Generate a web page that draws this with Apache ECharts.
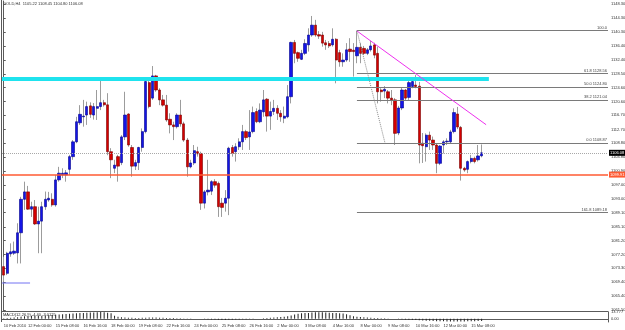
<!DOCTYPE html>
<html><head><meta charset="utf-8">
<script src="https://cdn.jsdelivr.net/npm/echarts@6/dist/echarts.min.js"></script>
<style>html,body{margin:0;padding:0;background:#fff}#c{width:625px;height:330px}</style>
</head><body><div id="c"></div>
<script>
// ---- data ----
const opens = [1073.8,1071.9,1077.4,1077.6,1077.7,1083.4,1092.9,1095.0,1090.1,1090.8,1085.9,1086.7,1090.8,1092.7,1092.9,1091.3,1098.4,1099.8,1099.8,1101.4,
1105.0,1109.2,1114.6,1116.3,1116.8,1119.4,1116.8,1118.7,1119.2,1120.3,1119.7,1106.4,1101.7,1105.0,1103.3,1110.6,1117.1,1107.6,1102.3,1103.3,
1107.6,1112.1,1126.0,1121.6,1127.9,1123.9,1121.1,1119.6,1115.6,1114.0,1113.5,1116.8,1114.3,1109.7,1102.1,1103.2,1106.4,1105.9,1091.8,1095.0,
1095.2,1097.9,1097.4,1091.8,1091.8,1093.2,1107.6,1106.4,1107.8,1109.2,1112.1,1110.6,1112.1,1117.8,1114.9,1117.7,1121.3,1116.5,1117.8,1118.7,
1117.3,1115.9,1116.3,1122.0,1137.4,1134.5,1132.6,1134.3,1136.7,1139.5,1142.3,1139.6,1139.5,1137.3,1137.1,1136.7,1138.3,1134.5,1131.9,1132.4,
1135.5,1135.2,1133.6,1136.0,1135.7,1134.3,1135.3,1136.7,1134.3,1123.9,1123.6,1123.4,1121.6,1121.1,1111.7,1118.8,1123.9,1121.8,1124.9,1125.3,
1125.0,1108.8,1107.8,1111.1,1109.7,1108.3,1103.1,1108.3,1109.2,1109.2,1112.1,1117.1,1113.3,1101.7,1101.4,1103.6,1104.5,1104.1,1105.22];
const closes = [1071.4,1077.6,1078.0,1078.2,1083.4,1092.9,1095.0,1090.1,1090.8,1085.9,1086.7,1090.8,1092.9,1093.2,1091.3,1098.4,1100.3,1100.3,1100.4,1105.0,
1109.2,1114.9,1117.0,1116.5,1119.2,1117.0,1119.2,1119.2,1120.3,1119.7,1106.4,1104.1,1102.6,1102.3,1110.6,1116.8,1108.3,1102.3,1103.3,1107.6,
1112.1,1126.3,1119.2,1127.9,1123.9,1121.1,1119.6,1115.4,1114.0,1113.5,1116.8,1114.3,1109.7,1102.1,1103.2,1106.7,1105.8,1091.8,1095.0,1095.5,
1097.9,1096.9,1090.8,1090.6,1093.2,1107.4,1105.9,1107.8,1109.2,1112.1,1110.4,1112.0,1117.5,1114.9,1118.2,1121.1,1116.5,1117.8,1118.7,1117.3,
1116.3,1116.5,1122.0,1137.4,1134.3,1132.9,1134.3,1137.1,1139.5,1142.3,1139.5,1139.2,1137.2,1136.7,1136.4,1138.3,1132.4,1131.9,1132.4,1135.3,
1134.8,1134.8,1136.0,1134.3,1134.3,1135.3,1136.4,1133.8,1123.4,1123.4,1124.1,1121.6,1121.1,1111.6,1118.8,1123.9,1121.6,1126.0,1126.3,1124.9,
1108.3,1108.1,1111.1,1109.7,1108.3,1103.1,1108.0,1109.2,1109.4,1112.0,1117.5,1113.4,1101.7,1101.2,1103.6,1104.5,1103.6,1105.2,1106.08];
const lows = [1069.5,1071.4,1076.6,1077.1,1074.7,1074.7,1089.9,1089.9,1087.9,1085.6,1077.6,1077.6,1089.9,1092.2,1090.8,1090.8,1097.9,1098.9,1097.9,1099.8,
1104.1,1108.8,1114.0,1113.5,1114.0,1116.0,1115.5,1115.4,1118.2,1119.2,1105.4,1098.9,1100.3,1097.9,1102.6,1109.7,1107.8,1099.3,1101.2,1101.2,
1106.4,1111.6,1118.7,1121.1,1123.4,1119.6,1119.2,1114.9,1111.6,1109.7,1113.0,1113.5,1109.2,1099.3,1101.7,1102.6,1105.0,1089.9,1090.3,1094.0,
1094.1,1096.2,1087.9,1087.9,1089.4,1088.4,1105.0,1103.6,1106.9,1106.9,1109.7,1106.9,1111.6,1114.5,1114.5,1116.3,1112.1,1112.6,1116.8,1115.4,
1114.9,1114.5,1115.9,1120.1,1131.5,1131.9,1132.4,1133.8,1134.8,1139.0,1139.0,1138.4,1136.2,1135.3,1135.8,1136.2,1125.8,1130.5,1130.5,1131.9,
1131.9,1127.7,1131.5,1131.5,1133.8,1133.8,1134.8,1132.9,1120.1,1120.6,1121.6,1120.1,1119.6,1108.3,1111.1,1118.2,1120.9,1121.1,1124.4,1124.4,
1103.1,1103.2,1103.6,1106.9,1106.9,1100.3,1102.6,1105.9,1108.3,1108.8,1111.6,1112.8,1098.2,1100.7,1100.3,1103.1,1103.1,1103.6,1104.80];
const highs = [1076.6,1078.0,1080.4,1080.9,1086.1,1093.6,1097.9,1096.7,1092.2,1092.7,1090.8,1092.2,1095.1,1095.0,1094.6,1099.8,1102.1,1101.7,1101.2,1105.5,
1109.7,1116.3,1119.6,1121.1,1120.6,1120.4,1120.2,1123.9,1127.2,1121.1,1123.0,1107.4,1104.1,1105.5,1111.1,1123.4,1117.3,1108.3,1104.1,1107.8,
1113.0,1126.7,1126.7,1130.7,1128.2,1124.4,1122.5,1122.5,1117.3,1114.9,1117.3,1121.1,1114.9,1110.3,1104.1,1108.3,1107.8,1106.4,1095.5,1104.1,
1098.3,1098.6,1097.9,1093.3,1095.5,1107.8,1108.3,1108.8,1110.2,1114.0,1112.6,1118.2,1119.2,1118.7,1120.1,1123.9,1121.6,1120.6,1121.1,1119.6,
1118.2,1119.2,1125.3,1137.6,1138.1,1134.8,1135.3,1138.3,1141.4,1144.9,1143.8,1140.6,1140.4,1138.1,1137.8,1141.4,1138.6,1135.3,1134.3,1137.2,
1138.6,1137.2,1140.7,1137.2,1136.4,1135.8,1137.9,1137.3,1136.2,1124.4,1125.0,1123.9,1123.9,1121.6,1119.4,1124.5,1124.2,1127.0,1126.9,1128.2,
1126.2,1111.7,1111.6,1112.1,1110.7,1108.8,1108.3,1109.7,1110.2,1112.6,1118.7,1119.1,1113.7,1102.1,1103.9,1105.5,1105.0,1108.3,1108.45];
const macd = [1,1.5,2,2.5,3,4,5,5.5,6,6,6,6,6.5,7,7.5,8,8.5,9,
9.5,10,10.5,11,11.5,12,12.5,13,13,13.5,13.8,13.5,12.5,11,
6,4,3,2.5,2,2,1.8,1.8,2,2.2,2.5,2.5,2.5,2.3,2,1.8,1.6,1.4,1.2,1,0.8,0.6,0.4,
0.3,0.2,0,-0.5,-1,-1.2,
-1.5,-2,-2.2,-2.4,-2,-1.8,-1.5,-1.3,-1,-0.8,-0.5,-0.3,0,0.3,
1,1.5,2,2.5,3,3.5,4,5,6.5,8.5,10,
11,11.5,12,12.8,13.3,13.5,13.2,12.8,12.5,12,11.5,11,10.5,
9,7,5,4,3.5,3,2.5,2,1.8,1.5,1.2,1,0.6,
0.3,0,-0.5,-1,-1.5,-2,-2.2,-2.5,-3,-3.5,-4,-4.2,-4.5,-4.8,-5,-5.2,-5.3,-5.4,-5.5,-5.5,-5.4,-5.3,-5.2,-5,-4.8,-4.6,-4.4];
const priceTicks = [1148.30,1144.30,1140.30,1136.40,1132.40,1128.50,1124.60,1120.60,1116.70,1112.70,1108.80,1104.80,1100.90,1097.00,1093.00,1089.10,1085.10,1081.20,1077.20,1073.30,1069.40,1065.40,1061.50];
const dateTickIndex = [0,7,15,23,31,39,47,55,63,71,79,87,95,103,111,119,127,135];
const dateTickLabels = ['10 Feb 2010','12 Feb 00:00','15 Feb 08:00','16 Feb 16:00','18 Feb 00:00','19 Feb 08:00','22 Feb 16:00','24 Feb 00:00','25 Feb 08:00','26 Feb 16:00','2 Mar 00:00','3 Mar 08:00','4 Mar 16:00','8 Mar 00:00','9 Mar 08:00','10 Mar 16:00','12 Mar 00:00','15 Mar 08:00'];
const slotCount = 175;               // visible bar slots incl. empty right margin
const priceMin = 1061.21, priceMax = 1149.15;
const macdMin = -6.5, macdMax = 13.777;
const macdTicks = [13.777, 0];
const supportLevel = 1099.91;
const bidLevel = 1106.08;
const resistanceLevel = 1127.0, resistanceEnd = 140.1;
const lowLineLevel = 1069.15, lowLineEnd = 7.6;
const fibStart = 102, fibEnd = 110.1, fibHigh = 1140.73, fibLow = 1108.87;
const fibLevels = [100, 61.8, 50, 38.2, 0, -61.8];
const fibNames = ['100.0','61.8','50.0','38.2','0.0','161.8'];
const trendStart = [102, 1140.64], trendEnd = [139.3, 1114.06];

// ---- build ----
const cats = Array.from({length: slotCount}, (_, i) => String(i));
const tickMap = {};
dateTickIndex.forEach((ix, k) => tickMap[ix] = dateTickLabels[k]);
const ohlc = opens.map((o, i) => [o, closes[i], lows[i], highs[i]]);
const bodies = opens.map((o, i) => [o, closes[i], Math.min(o, closes[i]), Math.max(o, closes[i])]);
const last = opens.length - 1;
const f2 = v => Number(v).toFixed(2);
const FONT = 'Liberation Sans';

const fibMarks = fibLevels.map((lv, k) => {
  const p = fibLow + (fibHigh - fibLow) * lv / 100;
  const txt = lv === 100 ? fibNames[k] : fibNames[k] + ' ' + f2(p);
  return [{name: txt, coord: [fibStart, p]}, {coord: [slotCount - 0.5, p]}];
});

const chart = echarts.init(document.getElementById('c'), null, {renderer: 'canvas'});
chart.setOption({
  animation: false,
  backgroundColor: '#ffffff',
  textStyle: {fontFamily: FONT},
  grid: [
    {left: 2, right: 17, top: 1, height: 310, containLabel: false, outerBoundsMode: 'none'},
    {left: 2, right: 17, top: 312, height: 10, containLabel: false, outerBoundsMode: 'none'}
  ],
  xAxis: [
    {type: 'category', gridIndex: 0, data: cats, boundaryGap: true,
     axisLine: {show: true, lineStyle: {color: '#5a5a5a', width: 1}}, axisTick: {show: false}, axisLabel: {show: false}, splitLine: {show: false}},
    {type: 'category', gridIndex: 1, data: cats, boundaryGap: true,
     axisLine: {show: true, lineStyle: {color: '#5a5a5a', width: 1}}, axisTick: {show: false},
     axisLabel: {show: true, interval: (i) => tickMap[i] !== undefined, formatter: (v, i) => tickMap[i] || '',
       fontSize: 4, color: '#333', align: 'left', margin: 2, fontFamily: FONT, hideOverlap: false},
     splitLine: {show: false}},
    {type: 'value', gridIndex: 0, min: -0.5, max: slotCount - 0.5, show: false}
  ],
  yAxis: [
    {type: 'value', gridIndex: 0, position: 'right', min: priceMin, max: priceMax,
     axisLine: {show: true, lineStyle: {color: '#5a5a5a', width: 1}},
     axisTick: {show: true, length: 2, customValues: priceTicks, lineStyle: {color: '#5a5a5a'}},
     axisLabel: {show: true, customValues: priceTicks, formatter: v => f2(v), fontSize: 4, color: '#333', margin: 3, fontFamily: FONT},
     splitLine: {show: false}},
    {type: 'value', gridIndex: 1, position: 'right', min: macdMin, max: macdMax,
     axisLine: {show: true, lineStyle: {color: '#5a5a5a', width: 1}},
     axisTick: {show: false},
     axisLabel: {show: true, customValues: macdTicks, formatter: v => (v === 0 ? '0.00' : String(v)), fontSize: 4, color: '#333', margin: 3, fontFamily: FONT},
     splitLine: {show: false}}
  ],
  graphic: [
    {type: 'line', shape: {x1: 1.5, y1: 0, x2: 1.5, y2: 322}, style: {stroke: '#5a5a5a', lineWidth: 1}, silent: true},
    {type: 'text', left: 3, top: 2, style: {text: 'GOLD,H4  ' + [opens[last], highs[last], lows[last], closes[last]].map(f2).join(' '),
      fontSize: 4, fill: '#333', fontFamily: FONT}, silent: true},
    {type: 'text', left: 3, top: 313, style: {text: 'MACD(12,26,9) ' + f2(macd[last]) + ' -3.0125',
      fontSize: 4, fill: '#222', fontFamily: FONT}, silent: true}
  ],
  series: [
    {type: 'candlestick', name: 'wicks', xAxisIndex: 0, yAxisIndex: 0, data: ohlc, barWidth: 1, z: 2,
     itemStyle: {color: '#9c9c9c', color0: '#9c9c9c', borderColor: '#9c9c9c', borderColor0: '#9c9c9c', borderColorDoji: '#9c9c9c', borderWidth: 1}},
    {type: 'candlestick', name: 'bodies', xAxisIndex: 0, yAxisIndex: 0, data: bodies, barWidth: 2.8, z: 3,
     itemStyle: {color: '#1414e6', color0: '#d40000', borderColor: '#00008b', borderColor0: '#7a0000', borderColorDoji: '#00008b', borderWidth: 0.6},
     markLine: {silent: true, symbol: 'none', z: 4, animation: false,
       data: [
         {yAxis: supportLevel, lineStyle: {color: '#ff5a32', width: 1.6, type: 'solid'},
          label: {show: true, position: 'end', distance: 1, formatter: f2(supportLevel), fontSize: 4, color: '#fff', backgroundColor: '#ff5a32', padding: [1, 1], fontFamily: FONT}},
         {yAxis: bidLevel, lineStyle: {color: '#a8a8a8', width: 1, type: 'dotted'},
          label: {show: true, position: 'end', distance: 1, formatter: f2(bidLevel), fontSize: 4, color: '#fff', backgroundColor: '#000', padding: [1, 1], fontFamily: FONT}}
       ]}},
    {type: 'bar', name: 'MACD', xAxisIndex: 1, yAxisIndex: 1, data: macd, barWidth: 1, itemStyle: {color: '#222'}, silent: true},
    {type: 'line', name: 'resistance', xAxisIndex: 2, yAxisIndex: 0, symbol: 'none', z: 6, silent: true,
     data: [[-0.5, resistanceLevel], [resistanceEnd, resistanceLevel]], lineStyle: {color: '#1fe3ee', width: 4}},
    {type: 'line', name: 'lowLine', xAxisIndex: 2, yAxisIndex: 0, symbol: 'none', z: 6, silent: true,
     data: [[-0.5, lowLineLevel], [lowLineEnd, lowLineLevel]], lineStyle: {color: '#7373f2', width: 1}},
    {type: 'line', name: 'fib', xAxisIndex: 2, yAxisIndex: 0, symbol: 'none', z: 6, silent: true,
     data: [[fibStart, fibHigh], [fibEnd, fibLow]], lineStyle: {color: '#8a8a8a', width: 1, type: 'dotted'},
     markLine: {silent: true, symbol: 'none', animation: false, data: fibMarks,
       lineStyle: {color: '#7a7a7a', width: 1, type: 'solid'},
       label: {show: true, position: 'insideEndTop', distance: 1, formatter: '{b}', fontSize: 4, color: '#444', fontFamily: FONT}}},
    {type: 'line', name: 'trend', xAxisIndex: 2, yAxisIndex: 0, symbol: 'none', z: 6, silent: true,
     data: [trendStart, trendEnd], lineStyle: {color: '#ee30ee', width: 1}}
  ]
});
</script></body></html>
